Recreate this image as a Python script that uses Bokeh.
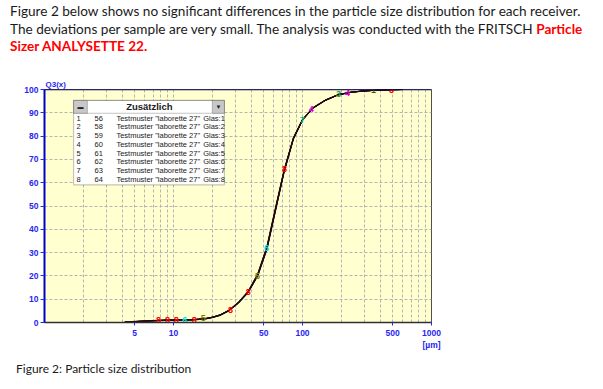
from bokeh.plotting import figure
from bokeh.models import Div, BoxAnnotation, Label, Span, FixedTicker, ColumnDataSource, Range1d
from bokeh.layouts import column
from bokeh.core.properties import value
from bokeh.embed import file_html
from bokeh.resources import INLINE

# ---------------- data ----------------
SIZE_UM = [4.2, 5, 6, 7, 8, 9, 10, 12, 14, 16, 18, 20, 23, 27, 32, 38, 45, 53, 62, 72,
           85, 100, 120, 150, 190, 240, 300, 380, 480, 600]
Q3_1 = [0.2, 0.4, 0.6, 0.8, 0.9, 1.0, 1.0, 1.1, 1.2, 1.4, 1.7, 2.2, 3.2, 5.2, 8.6, 13.2, 20.5, 32.0, 49.0, 65.0,
        79.0, 87.0, 92.0, 95.4, 97.8, 98.9, 99.4, 99.7, 99.9, 100]
Q3_2 = [0.2, 0.4, 0.6, 0.8, 0.9, 1.0, 1.1, 1.1, 1.2, 1.4, 1.8, 2.3, 3.3, 5.4, 8.9, 13.6, 21.0, 32.8, 49.8, 65.6,
        79.4, 87.3, 92.2, 95.5, 97.9, 98.9, 99.4, 99.7, 99.9, 100]
Q3_3 = [0.2, 0.3, 0.5, 0.7, 0.8, 0.9, 1.0, 1.0, 1.1, 1.3, 1.6, 2.1, 3.0, 5.0, 8.3, 12.8, 19.9, 31.2, 48.2, 64.4,
        78.6, 86.7, 91.8, 95.2, 97.7, 98.8, 99.3, 99.7, 99.9, 100]
Q3_4 = [0.2, 0.4, 0.6, 0.8, 0.9, 1.0, 1.0, 1.1, 1.2, 1.5, 1.8, 2.3, 3.3, 5.3, 8.7, 13.4, 20.8, 32.4, 49.4, 65.3,
        79.2, 87.1, 92.1, 95.4, 97.8, 98.9, 99.4, 99.7, 99.9, 100]
Q3_5 = [0.3, 0.5, 0.7, 0.9, 1.0, 1.1, 1.1, 1.2, 1.3, 1.5, 1.8, 2.3, 3.3, 5.3, 8.7, 13.3, 20.6, 32.1, 49.1, 65.1,
        79.1, 87.0, 92.0, 95.3, 97.8, 98.8, 99.4, 99.7, 99.9, 100]
Q3_6 = [0.2, 0.4, 0.6, 0.8, 0.9, 1.0, 1.0, 1.1, 1.2, 1.4, 1.7, 2.2, 3.1, 5.1, 8.5, 13.1, 20.3, 31.8, 48.7, 64.8,
        78.8, 86.9, 91.9, 95.3, 97.7, 98.8, 99.4, 99.7, 99.9, 100]
Q3_7 = [0.1, 0.3, 0.5, 0.7, 0.8, 0.9, 1.0, 1.0, 1.1, 1.3, 1.6, 2.1, 3.1, 5.1, 8.5, 13.0, 20.2, 31.6, 48.5, 64.7,
        78.9, 86.9, 92.0, 95.4, 97.8, 98.9, 99.4, 99.7, 99.9, 100]
Q3_8 = [0.2, 0.4, 0.6, 0.8, 0.9, 1.0, 1.0, 1.1, 1.2, 1.4, 1.7, 2.2, 3.2, 5.2, 8.6, 13.2, 20.4, 31.9, 48.9, 64.9,
        78.9, 86.9, 92.0, 95.4, 97.8, 98.9, 99.4, 99.7, 99.9, 100]
SERIES = [Q3_1, Q3_2, Q3_3, Q3_4, Q3_5, Q3_6, Q3_7, Q3_8]
SERIES_COLORS = ["#000000", "#3a0000", "#00003a", "#2a2a00", "#1a1a1a", "#400020", "#002040", "#300000"]

MARK_X = [7.65, 8.97, 10.5, 12.2, 14.5, 17.0, 27.7, 38.0, 44.8, 52.6, 72.5, 100, 117, 190, 223, 355, 490]
MARK_Y = [1.2, 1.2, 1.2, 1.2, 1.2, 1.8, 5.5, 13.0, 20.0, 32.0, 66.0, 87.0, 91.5, 97.9, 98.7, 99.6, 99.6]
MARK_T = ["8", "8", "8", "6", "8", "5", "8", "8", "5", "6", "8", "7", "4", "3", "4", "1", "8"]
MARK_C = ["#FF0000", "#FF0000", "#FF0000", "#00E0E0", "#FF0000", "#808000", "#FF0000", "#FF0000", "#808000",
          "#00D8E8", "#FF0000", "#00C080", "#E000E0", "#20A040", "#E000E0", "#406000", "#FF0000"]

LEG_IDX = ["1", "2", "3", "4", "5", "6", "7", "8"]
LEG_NUM = ["56", "58", "59", "60", "61", "62", "63", "64"]
LEG_NAME = ['Testmuster "laborette 27"'] * 8
LEG_GLAS = ["Glas:1", "Glas:2", "Glas:3", "Glas:4", "Glas:5", "Glas:6", "Glas:7", "Glas:8"]

X_TICKS = [5, 10, 50, 100, 500, 1000]
Y_TICKS = [0, 10, 20, 30, 40, 50, 60, 70, 80, 90, 100]

BLUE = "#2626F0"
FONT = "Liberation Sans"

# ---------------- text blocks ----------------
para = Div(text=(
    '<div style="font-family:Lato;font-size:13.6px;line-height:17.5px;color:#1a1a1a;'
    'position:relative;top:3px;left:10px;white-space:nowrap">'
    'Figure 2 below shows no significant differences in the particle size distribution for each receiver.<br>'
    'The deviations per sample are very small. The analysis was conducted with the FRITSCH '
    '<b style="color:#FF0000">Particle</b><br>'
    '<b style="color:#FF0000">Sizer ANALYSETTE 22.</b></div>'),
    width=595, height=62, margin=(0, 0, 0, 0))

caption = Div(text=(
    '<div style="font-family:Lato;font-size:12px;color:#1a1a1a;padding-left:16px;padding-top:8px;'
    'white-space:nowrap">Figure 2: Particle size distribution</div>'),
    width=595, height=22, margin=(0, 0, 0, 0))

# ---------------- figure ----------------
p = figure(x_axis_type="log", width=461, height=290,
           x_range=Range1d(1, 1000), y_range=Range1d(0, 100),
           min_border_left=44, min_border_right=30, min_border_top=27, min_border_bottom=28,
           output_backend="svg", toolbar_location=None, margin=(0, 0, 0, 0))
p.background_fill_color = "#FFFFCF"
p.border_fill_color = "white"
p.outline_line_color = "#505050"
p.outline_line_width = 1

p.title.text = "Q3(x)"
p.title.text_font = FONT
p.title.text_font_size = "8px"
p.title.text_color = BLUE
p.title.align = "left"
p.title.standoff = 2
p.title.offset = 1

# grids
grid_x = [m * d for d in (1, 10, 100) for m in range(2, 10)] + [10, 100]
p.xgrid.ticker = FixedTicker(ticks=grid_x)
p.ygrid.ticker = FixedTicker(ticks=Y_TICKS[1:-1])
for g in (p.xgrid, p.ygrid):
    g.grid_line_color = "#B4B4B4"
    g.grid_line_dash = "3 2"
    g.grid_line_width = 1

# axes
p.xaxis.ticker = FixedTicker(ticks=X_TICKS)
p.xaxis.major_label_overrides = {1000: "1000\n[µm]"}
p.yaxis.ticker = FixedTicker(ticks=Y_TICKS)
for ax in (p.xaxis, p.yaxis):
    ax.major_label_text_font = FONT
    ax.major_label_text_font_size = "8.5px"
    ax.major_label_text_font_style = "bold"
    ax.major_label_text_color = BLUE
    ax.major_tick_line_color = BLUE
    ax.major_tick_in = 0
    ax.minor_tick_line_color = None
p.xaxis.major_tick_out = 3
p.xaxis.major_label_standoff = 2
p.xaxis.axis_line_color = "#303030"
p.xaxis.axis_line_width = 1.5
p.yaxis.major_tick_out = 4
p.yaxis.major_label_standoff = 2
p.yaxis.axis_line_color = "#0000C8"
p.yaxis.axis_line_width = 2

p.add_layout(Span(location=100, dimension="width", line_color="#000070", line_width=1.5))

# curves
for ys, c in zip(SERIES, SERIES_COLORS):
    p.line(SIZE_UM, ys, line_color=c, line_width=1)

msrc = ColumnDataSource(dict(x=MARK_X, y=MARK_Y, t=MARK_T, c=MARK_C))
p.text(x="x", y="y", text="t", text_color="c", source=msrc,
       text_align="center", text_baseline="middle",
       text_font=value(FONT), text_font_size="9px", text_font_style="bold")

# ---------------- "Zusätzlich" box ----------------
p.add_layout(BoxAnnotation(left=1.68, right=24.8, bottom=59.1, top=95.3,
                           fill_color="white", fill_alpha=1, line_color="#404040", line_width=1.2))
p.add_layout(BoxAnnotation(left=1.68, right=24.8, bottom=89.8, top=95.3,
                           fill_alpha=0, line_color="#404040", line_width=1))
p.add_layout(BoxAnnotation(left=1.68, right=2.15, bottom=89.8, top=95.3,
                           fill_color="#C8C8C8", fill_alpha=1, line_color="#404040", line_width=1))
p.add_layout(BoxAnnotation(left=20.0, right=24.8, bottom=89.8, top=95.3,
                           fill_color="#C8C8C8", fill_alpha=1, line_color="#404040", line_width=1))
p.add_layout(Label(x=1.9, y=92.55, text="▬", text_align="center", text_baseline="middle",
                   text_font_size="6px", text_color="#202020"))
p.add_layout(Label(x=22.3, y=92.55, text="▼", text_align="center", text_baseline="middle",
                   text_font_size="6px", text_color="#202020"))
p.add_layout(Label(x=6.5, y=92.55, text="Zusätzlich", text_align="center", text_baseline="middle",
                   text_font=FONT, text_font_size="9.5px", text_font_style="bold", text_color="#202020"))

row_y = [87.7 - 3.745 * i for i in range(len(LEG_IDX))]
for col_x, col_text in ((1.77, LEG_IDX), (2.44, LEG_NUM), (3.61, LEG_NAME), (16.98, LEG_GLAS)):
    src = ColumnDataSource(dict(x=[col_x] * len(col_text), y=row_y, t=col_text))
    r = p.text(x="x", y="y", text="t", source=src, text_align="left", text_baseline="middle",
               text_font=value(FONT), text_font_size="7.5px", text_color="#202020")
    r.level = "overlay"

layout = column(para, p, caption, spacing=0)
open("out.html", "w").write(file_html(layout, INLINE))
